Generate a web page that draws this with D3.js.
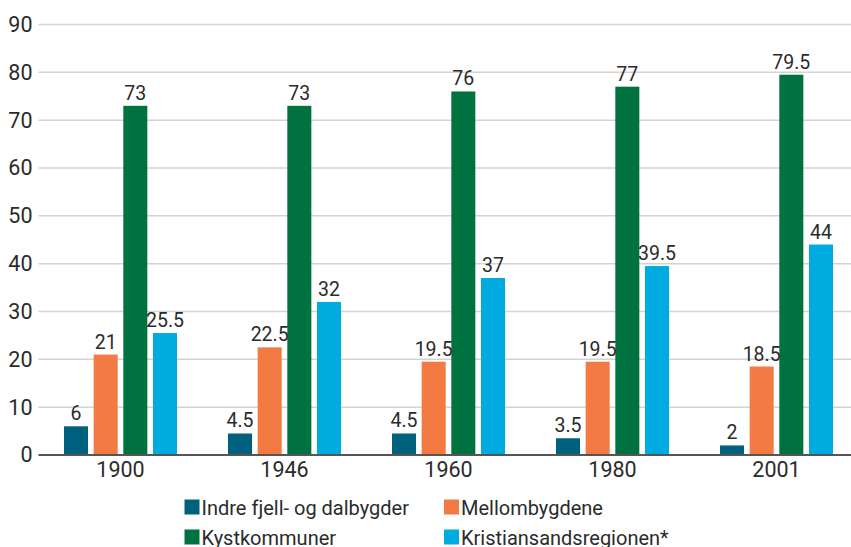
<!DOCTYPE html>
<html>
<head>
<meta charset="utf-8">
<script src="https://cdn.jsdelivr.net/npm/d3@7"></script>
<style>
  html, body { margin: 0; padding: 0; background: #fff; }
  svg { display: block; font-family: Roboto, "Noto Sans", sans-serif; }
</style>
</head>
<body>
<svg id="chart" width="851" height="547"></svg>
<script>
const years = ["1900", "1946", "1960", "1980", "2001"];
const seriesNames = ["Indre fjell- og dalbygder", "Mellombygdene", "Kystkommuner", "Kristiansandsregionen*"];
const indre = [6, 4.5, 4.5, 3.5, 2];
const mellom = [21, 22.5, 19.5, 19.5, 18.5];
const kyst = [73, 73, 76, 77, 79.5];
const krs = [25.5, 32, 37, 39.5, 44];
const yTicks = [0, 10, 20, 30, 40, 50, 60, 70, 80, 90];
const colors = ["#00617F", "#F37A43", "#00723F", "#00ABE0"];

const seriesValues = [indre, mellom, kyst, krs];
const table = years.flatMap((yr, i) => seriesValues.map((vals, s) => ({ year: yr, s, value: vals[i] })));

const svg = d3.select("#chart");
const mLeft = 38.5, mRight = 858.5, mTop = 24.5, mBottom = 455;

const x0 = d3.scaleBand().domain(years).range([mLeft, mRight]).paddingInner(0).paddingOuter(0);
const x1 = d3.scaleBand().domain(d3.range(seriesNames.length)).range([25.5, 138.5]).paddingInner(0.19).paddingOuter(0);
const y = d3.scaleLinear().domain([0, 90]).range([mBottom, mTop]);

// gridlines
svg.append("g").selectAll("line").data(yTicks.filter(d => d > 0)).join("line")
  .attr("x1", mLeft).attr("x2", 851)
  .attr("y1", d => y(d)).attr("y2", d => y(d))
  .attr("stroke", "#d3d3d3").attr("stroke-width", 1.5);

// y axis labels
const yAxis = svg.append("g").attr("transform", `translate(${mLeft - 6},0)`)
  .call(d3.axisLeft(y).tickValues(yTicks).tickSize(0).tickPadding(0));
yAxis.select(".domain").remove();
yAxis.selectAll("text").attr("font-size", 21.5).attr("fill", "#2b2b2b")
  .attr("font-family", "Roboto, sans-serif");

// bars
svg.append("g").selectAll("rect").data(table).join("rect")
  .attr("x", d => x0(d.year) + x1(d.s))
  .attr("width", x1.bandwidth())
  .attr("y", d => y(d.value))
  .attr("height", d => y(0) - y(d.value))
  .attr("fill", d => colors[d.s]);

// value labels
svg.append("g").selectAll("text").data(table).join("text")
  .attr("x", d => x0(d.year) + x1(d.s) + x1.bandwidth() / 2)
  .attr("y", d => y(d.value) - 6)
  .attr("text-anchor", "middle")
  .attr("font-size", 19.5).attr("fill", "#2b2b2b")
  .text(d => String(d.value));

// x axis
const xAxis = svg.append("g").attr("transform", `translate(0,${mBottom})`)
  .call(d3.axisBottom(x0).tickSize(0).tickPadding(7));
xAxis.select(".domain").remove();
xAxis.selectAll("text").attr("font-size", 21.5).attr("fill", "#2b2b2b")
  .attr("font-family", "Roboto, sans-serif");
svg.append("line").attr("x1", mLeft).attr("x2", 851).attr("y1", mBottom).attr("y2", mBottom)
  .attr("stroke", "#555").attr("stroke-width", 2);

// legend
const legendPos = [[184.5, 499.5], [444, 499.5], [184.5, 529.5], [444, 529.5]];
const lg = svg.append("g").selectAll("g").data(seriesNames).join("g")
  .attr("transform", (d, i) => `translate(${legendPos[i][0]},${legendPos[i][1]})`);
lg.append("rect").attr("width", 15).attr("height", 15).attr("fill", (d, i) => colors[i]);
lg.append("text").attr("x", 17).attr("y", 15).attr("font-size", 20).attr("fill", "#2b2b2b").text(d => d);
</script>
</body>
</html>
